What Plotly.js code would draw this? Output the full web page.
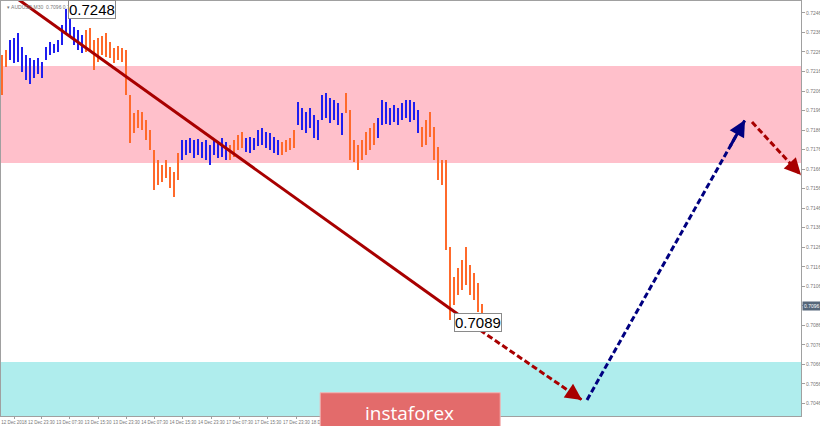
<!DOCTYPE html>
<html><head><meta charset="utf-8">
<script src="https://cdn.plot.ly/plotly-3.0.1.min.js"></script>
<style>html,body{margin:0;padding:0;background:#fff}#chart{width:820px;height:426px}</style>
</head><body><div id="chart"></div>
<script>
// AUDUSD M30 bars (high / low)
const barHigh = [0.72244,0.72270,0.72321,0.72331,0.72357,0.72285,0.72244,0.72229,0.72219,0.72229,
0.72209,0.72285,0.72311,0.72301,0.72321,0.72398,0.72480,0.72439,0.72388,0.72372,
0.72347,0.72372,0.72383,0.72321,0.72331,0.72342,0.72357,0.72311,0.72280,0.72290,
0.72280,0.72270,0.72040,0.71947,0.71963,0.71953,0.71912,0.71860,0.71758,0.71707,
0.71681,0.71707,0.71671,0.71645,0.71743,0.71809,0.71809,0.71819,0.71809,0.71814,
0.71799,0.71809,0.71784,0.71809,0.71794,0.71819,0.71799,0.71784,0.71809,0.71835,
0.71850,0.71819,0.71825,0.71819,0.71860,0.71871,0.71850,0.71845,0.71825,0.71809,
0.71799,0.71809,0.71819,0.71860,0.72004,0.71973,0.71953,0.71973,0.71937,0.71912,
0.72040,0.72050,0.72024,0.72014,0.71999,0.71947,0.72050,0.71963,0.71809,0.71784,
0.71809,0.71850,0.71871,0.71896,0.71922,0.72014,0.72004,0.71973,0.71988,0.71973,
0.71999,0.72014,0.72014,0.72004,0.71963,0.71876,0.71912,0.71953,0.71876,0.71773,
0.71707,0.71707,0.71261,0.71108,0.71154,0.71195,0.71261,0.71169,0.71128,0.71077,
0.70970];
const barLow = [0.72040,0.72183,0.72219,0.72203,0.72209,0.72157,0.72116,0.72096,0.72127,0.72147,
0.72127,0.72219,0.72244,0.72255,0.72260,0.72296,0.72357,0.72337,0.72296,0.72270,
0.72255,0.72260,0.72270,0.72168,0.72209,0.72244,0.72234,0.72229,0.72203,0.72219,
0.72209,0.72040,0.71794,0.71845,0.71871,0.71860,0.71809,0.71758,0.71553,0.71579,
0.71594,0.71615,0.71563,0.71517,0.71604,0.71707,0.71732,0.71743,0.71717,0.71732,
0.71717,0.71707,0.71681,0.71732,0.71717,0.71722,0.71707,0.71707,0.71722,0.71758,
0.71768,0.71748,0.71743,0.71758,0.71778,0.71784,0.71768,0.71758,0.71743,0.71732,
0.71732,0.71748,0.71758,0.71768,0.71886,0.71860,0.71845,0.71871,0.71819,0.71809,
0.71912,0.71922,0.71896,0.71912,0.71886,0.71835,0.71947,0.71707,0.71697,0.71656,
0.71707,0.71732,0.71758,0.71784,0.71819,0.71886,0.71891,0.71886,0.71901,0.71886,
0.71912,0.71922,0.71901,0.71912,0.71845,0.71773,0.71784,0.71825,0.71707,0.71604,
0.71579,0.71246,0.70888,0.70964,0.71016,0.71041,0.71067,0.71016,0.70990,0.70929,
0.70893];
// bar-index ranges of the rising (blue) wave segments; the rest are falling (orange)
const upWaves = [[2,20],[45,56],[61,69],[74,85],[94,104]];

// zones
const sellZone = [0.71691, 0.72188];
const buyZone = [0.70396, 0.70673];

// trend line and forecast legs (bar index, price)
const trendX = [4, 119.5];
const trendY = [0.72530, 0.70836];
const leg1X = [119.5, 145];    const leg1Y = [0.70836, 0.70478];
const leg2X = [146.25, 185.75]; const leg2Y = [0.70478, 0.71912];
const leg3X = [187.5, 199.75];  const leg3Y = [0.71901, 0.71630];

// labelled extremes
const peakIdx = 16.5, peakVal = 0.7248;
const lowIdx = 113, lowVal = 0.7089;
const lastPrice = 0.7096;
const header = "AUDUSD,M30  0.7096 0.7097 0.7093 0.7096";

const dateLabels = ["12 Dec 2018","12 Dec 23:30","13 Dec 07:30","13 Dec 15:30","13 Dec 23:30",
"14 Dec 07:30","14 Dec 15:30","14 Dec 23:30","17 Dec 07:30","17 Dec 15:30","17 Dec 23:30","18 Dec 07:30"];
const priceTicks = [0.7046,0.7056,0.7066,0.7076,0.7086,0.7096,0.7106,0.7116,0.7126,0.7136,0.7146,
0.7156,0.7166,0.7176,0.7186,0.7196,0.7206,0.7216,0.7226,0.7236,0.7246];

function isUp(i){ return upWaves.some(r => i>=r[0] && i<=r[1]); }
const bx = [], by = [], ox = [], oy = [];
for (let i=0;i<barHigh.length;i++){
  const X = isUp(i) ? bx : ox, Y = isUp(i) ? by : oy;
  X.push(i,i,null); Y.push(barLow[i],barHigh[i],null);
}
const dashed = '6px,3px';
const traces = [
  {x:ox,y:oy,mode:'lines',line:{color:'#FF6A2B',width:2},hoverinfo:'skip'},
  {x:bx,y:by,mode:'lines',line:{color:'#1E1EF0',width:2},hoverinfo:'skip'},
  {x:trendX,y:trendY,mode:'lines',line:{color:'#A80000',width:3},hoverinfo:'skip'},
  {x:leg1X,y:leg1Y,mode:'lines',line:{color:'#A80000',width:3,dash:dashed},hoverinfo:'skip'},
  {x:leg2X,y:leg2Y,mode:'lines',line:{color:'#000080',width:3,dash:dashed},hoverinfo:'skip'},
  {x:leg3X,y:leg3Y,mode:'lines',line:{color:'#A80000',width:3,dash:dashed},hoverinfo:'skip'}
];
function head(X,Y,col){
  const n=X.length-1;
  const fx = X[n-1] + (X[n]-X[n-1])*0.9, fy = Y[n-1] + (Y[n]-Y[n-1])*0.9;
  return {x:X[n],y:Y[n],ax:fx,ay:fy,axref:'x',ayref:'y',xref:'x',yref:'y',text:'',
    showarrow:true,arrowhead:2,arrowsize:1.1,arrowwidth:3,arrowcolor:col};
}
const tickvals = dateLabels.map((_,k)=> k===0 ? 3.0 : 2.75 + 7.083*k);
const layout = {
  width:820,height:426,margin:{l:1,r:19,t:1,b:10},
  paper_bgcolor:'#fff',plot_bgcolor:'#fff',showlegend:false,
  xaxis:{range:[-0.25,199.75],tickvals:tickvals,ticktext:dateLabels,tickangle:0,ticklabeloverflow:'allow',
    showgrid:false,zeroline:false,
    showline:true,mirror:true,linecolor:'#a0a0a0',linewidth:1,ticks:'outside',ticklen:2,tickcolor:'#a0a0a0',
    tickfont:{size:4.5,color:'#777',family:'Liberation Sans'}},
  yaxis:{range:[0.70396,0.72521],side:'right',tickvals:priceTicks,
    ticktext:priceTicks.map(v=> Math.abs(v-lastPrice)<1e-6 ? '' : v.toFixed(4)),
    showgrid:false,zeroline:false,showline:true,mirror:true,linecolor:'#a0a0a0',linewidth:1,
    ticks:'outside',ticklen:3,tickcolor:'#a0a0a0',tickfont:{size:5,color:'#777',family:'Liberation Sans'}},
  shapes:[
    {type:'rect',xref:'paper',yref:'y',x0:0,x1:1,y0:sellZone[0],y1:sellZone[1],fillcolor:'#FFC0CB',line:{width:0},layer:'below'},
    {type:'rect',xref:'paper',yref:'y',x0:0,x1:1,y0:buyZone[0],y1:buyZone[1],fillcolor:'#AFEDED',line:{width:0},layer:'below'},
    {type:'rect',xref:'paper',yref:'paper',x0:0.399,x1:0.624,y0:-0.06,y1:0.056,fillcolor:'#E36B6B',line:{color:'#F4B3B3',width:1},layer:'above'}
  ],
  annotations:[
    head(leg1X,leg1Y,'#A80000'), head(leg2X,leg2Y,'#000080'), head(leg3X,leg3Y,'#A80000'),
    {x:0.005,y:0.997,xref:'paper',yref:'paper',xanchor:'left',yanchor:'top',text:'▾ '+header,showarrow:false,
      font:{size:5,color:'#777',family:'Liberation Sans'}},
    {x:peakIdx,y:peakVal,xref:'x',yref:'y',xanchor:'left',yanchor:'middle',text:peakVal.toFixed(4),showarrow:false,
      bgcolor:'#fff',bordercolor:'#8a8a8a',borderwidth:1,borderpad:0,font:{size:15,color:'#000',family:'Liberation Sans'}},
    {x:lowIdx,y:lowVal,xref:'x',yref:'y',xanchor:'left',yanchor:'top',yshift:7,text:lowVal.toFixed(4),showarrow:false,
      bgcolor:'#fff',bordercolor:'#8a8a8a',borderwidth:1,borderpad:0,font:{size:15,color:'#000',family:'Liberation Sans'}},
    {x:1,y:lastPrice,xref:'paper',yref:'y',xanchor:'left',yanchor:'middle',xshift:1,text:lastPrice.toFixed(4),showarrow:false,
      bgcolor:'#56677a',borderpad:1,font:{size:5,color:'#fff',family:'Liberation Sans'}},
    {x:0.511,y:0.0,xref:'paper',yref:'paper',xanchor:'center',yanchor:'middle',yshift:3,text:'instaforex',showarrow:false,
      font:{size:19,color:'#fff',family:'Open Sans'}}
  ]
};
Plotly.newPlot('chart',traces,layout,{staticPlot:true,displayModeBar:false});
</script></body></html>
